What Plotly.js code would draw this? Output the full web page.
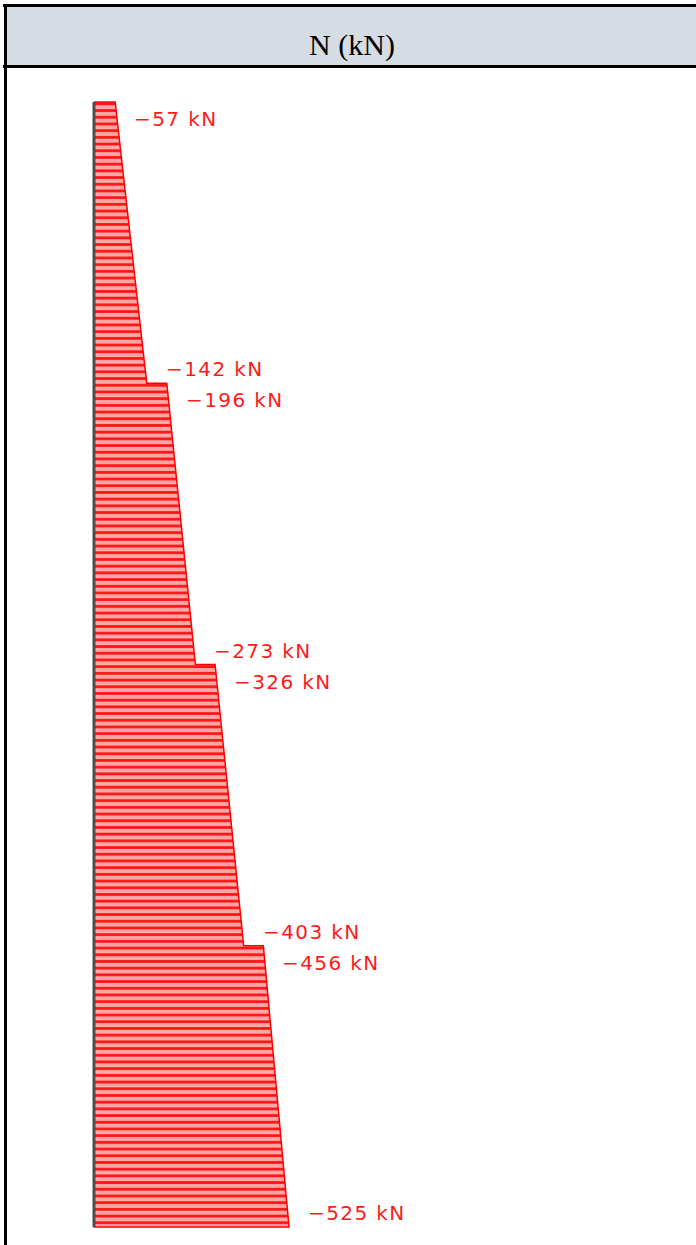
<!DOCTYPE html>
<html>
<head>
<meta charset="utf-8">
<script src="https://cdn.plot.ly/plotly-3.0.1.min.js"></script>
<style>
  html, body { margin: 0; padding: 0; background: #ffffff; }
  #chart { width: 696px; height: 1245px; }
  .annotation-text { letter-spacing: 1.4px; }
</style>
</head>
<body>
<div id="chart"></div>
<script>
// ---- data ----
const headerTitle = 'N (kN)';
const levels = [4, 3, 2, 1, 0];                 // storey levels, top to bottom
const storeyTopN = [-57, -196, -326, -456];      // axial force at the top of each storey (kN)
const storeyBottomN = [-142, -273, -403, -525];  // axial force at the bottom of each storey (kN)
const unit = 'kN';

// ---- figure geometry helpers (pixels -> paper) ----
const W = 696, H = 1245;
const px = x => x / W;
const py = y => 1 - y / H;

// polygon of the axial force diagram
const polyX = [0], polyY = [levels[0]];
for (let i = 0; i < storeyTopN.length; i++) {
  polyX.push(storeyTopN[i]);    polyY.push(levels[i]);
  polyX.push(storeyBottomN[i]); polyY.push(levels[i + 1]);
}
polyX.push(0); polyY.push(levels[levels.length - 1]);
polyX.push(0); polyY.push(levels[0]);

const fmt = v => (v < 0 ? '\u2212' : '') + Math.abs(v) + ' ' + unit;

const diagram = {
  type: 'scatter', mode: 'lines',
  x: polyX, y: polyY,
  fill: 'toself',
  fillcolor: 'rgba(255,150,150,1)',
  fillpattern: { shape: '-', size: 6.7, solidity: 0.4, fgcolor: '#ff1010', bgcolor: '#ffa6a6', fillmode: 'replace' },
  line: { color: '#ff0000', width: 1.5 },
  hoverinfo: 'skip', showlegend: false
};

const baseLine = {
  type: 'scatter', mode: 'lines',
  x: [0, 0], y: [levels[0], levels[levels.length - 1]],
  line: { color: '#4d4d4d', width: 3 },
  hoverinfo: 'skip', showlegend: false
};

const labelFont = { family: 'DejaVu Sans', size: 20, color: '#ff1a1a' };
const annotations = [];
for (let i = 0; i < storeyTopN.length; i++) {
  annotations.push({
    x: storeyTopN[i], y: levels[i], xref: 'x', yref: 'y',
    text: fmt(storeyTopN[i]), showarrow: false,
    xanchor: 'left', yanchor: 'middle', xshift: 17, yshift: -17,
    font: labelFont
  });
  annotations.push({
    x: storeyBottomN[i], y: levels[i + 1], xref: 'x', yref: 'y',
    text: fmt(storeyBottomN[i]), showarrow: false,
    xanchor: 'left', yanchor: 'middle', xshift: 17, yshift: 14,
    font: labelFont
  });
}

// x axis reversed so that compression (negative) is drawn to the right
const kNperPx = 525 / 195;
const x0px = 94;
const storeyPx = 281.25, topPx = 102;
const layout = {
  width: W, height: H,
  margin: { l: 0, r: 0, t: 0, b: 0, pad: 0 },
  paper_bgcolor: '#ffffff', plot_bgcolor: 'rgba(0,0,0,0)',
  title: {
    text: headerTitle, x: px(352), y: py(44), xref: 'paper', yref: 'paper',
    xanchor: 'center', yanchor: 'middle',
    font: { family: 'Liberation Serif', size: 30, color: '#000000' }
  },
  xaxis: { range: [x0px * kNperPx, -(W - x0px) * kNperPx], visible: false, fixedrange: true },
  yaxis: { range: [-(H - (topPx + 4 * storeyPx)) / storeyPx, 4 + topPx / storeyPx], visible: false, fixedrange: true },
  showlegend: false,
  shapes: [
    { type: 'rect', xref: 'paper', yref: 'paper', x0: px(5), x1: px(W), y0: py(6), y1: py(66),
      fillcolor: '#D6DCE4', line: { width: 0 }, layer: 'below' },
    { type: 'line', xref: 'paper', yref: 'paper', x0: px(3), x1: px(W), y0: py(5.5), y1: py(5.5),
      line: { color: '#000000', width: 3 } },
    { type: 'line', xref: 'paper', yref: 'paper', x0: px(3), x1: px(W), y0: py(66.5), y1: py(66.5),
      line: { color: '#000000', width: 3 } },
    { type: 'line', xref: 'paper', yref: 'paper', x0: px(5.5), x1: px(5.5), y0: py(4), y1: py(H),
      line: { color: '#000000', width: 3 } }
  ],
  annotations: annotations
};

Plotly.newPlot('chart', [diagram, baseLine], layout, { staticPlot: true, displayModeBar: false });
</script>
</body>
</html>
